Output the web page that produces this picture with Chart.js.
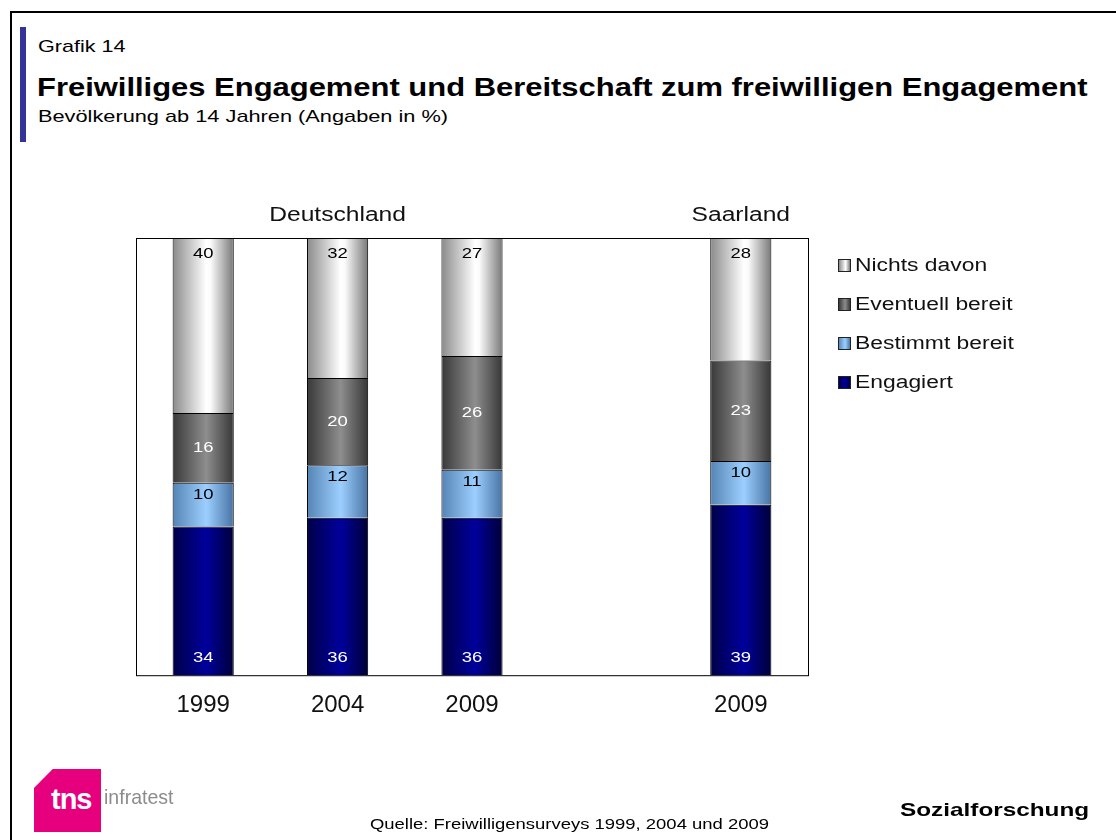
<!DOCTYPE html>
<html lang="de">
  <head>
    <meta charset="UTF-8" />
    <title>Grafik 14</title>
    <script src="https://cdn.jsdelivr.net/npm/chart.js"></script>
    <style>
      * {
        margin: 0;
        padding: 0;
        box-sizing: border-box;
        font-family: Arial, "Liberation Sans", sans-serif;
      }

      body {
        width: 1116px;
        height: 840px;
        background: #fff;
        position: relative;
        overflow: hidden;
        color: #000;
      }

      /* frame (only top + left visible) */
      .frame {
        position: absolute;
        left: 10px;
        top: 11px;
        width: 1200px;
        height: 900px;
        border-left: 2px solid #000;
        border-top: 2px solid #000;
      }

      .accent {
        position: absolute;
        left: 20px;
        top: 27px;
        width: 6px;
        height: 115px;
        background: #333399;
      }

      /* the original lettering is wider than Arial at the same height */
      .wide {
        position: absolute;
        white-space: nowrap;
        transform-origin: left center;
      }

      .kicker {
        left: 38px;
        top: 37px;
        font-size: 17px;
        transform: scaleX(1.27);
      }

      .title {
        left: 37px;
        top: 72px;
        font-size: 26px;
        font-weight: bold;
        transform: scaleX(1.19);
      }

      .subtitle {
        left: 38px;
        top: 107px;
        font-size: 17px;
        transform: scaleX(1.28);
      }

      #chart {
        position: absolute;
        left: 0;
        top: 0;
      }

      /* Legend */
      .legend {
        position: absolute;
        left: 838px;
        top: 255px;
      }

      .legend div {
        height: 39px;
        font-size: 18px;
        color: #111;
        display: flex;
        align-items: flex-start;
      }

      .legend span.box {
        width: 13px;
        height: 13px;
        border: 1px solid #222;
        margin-top: 4px;
        margin-right: 4px;
      }

      .legend span.txt {
        display: inline-block;
        transform: scaleX(1.27);
        transform-origin: left center;
      }

      .logo {
        position: absolute;
        left: 34px;
        top: 769px;
        width: 67px;
        height: 63px;
        background: #e6007e;
        clip-path: polygon(28% 0, 100% 0, 100% 100%, 0 100%, 0 30%);
      }

      .logo span {
        position: absolute;
        left: 17px;
        top: 14px;
        color: #fff;
        font-weight: bold;
        font-size: 29px;
        letter-spacing: -1px;
      }

      .logo-text {
        left: 104px;
        top: 785px;
        color: #8c8c8c;
        font-size: 21px;
        transform: scaleX(0.93);
      }

      .source {
        left: 370px;
        top: 815px;
        font-size: 15px;
        transform: scaleX(1.23);
      }

      .brand {
        left: 900px;
        top: 799px;
        font-size: 19px;
        font-weight: bold;
        transform: scaleX(1.28);
      }
    </style>
  </head>
  <body>
    <div class="frame"></div>
    <div class="accent"></div>
    <div class="wide kicker">Grafik 14</div>
    <div class="wide title">Freiwilliges Engagement und Bereitschaft zum freiwilligen Engagement</div>
    <div class="wide subtitle">Bevölkerung ab 14 Jahren (Angaben in %)</div>

    <canvas id="chart" width="1116" height="840"></canvas>

    <div class="legend">
      <div><span class="box" style="background: linear-gradient(90deg, #8a8a8a, #fff 60%, #7a7a7a)"></span><span class="txt">Nichts davon</span></div>
      <div><span class="box" style="background: linear-gradient(90deg, #3a3a3a, #8c8c8c 55%, #3a3a3a)"></span><span class="txt">Eventuell bereit</span></div>
      <div><span class="box" style="background: linear-gradient(90deg, #5a88b8, #9cd0ff 55%, #4a78a8)"></span><span class="txt">Bestimmt bereit</span></div>
      <div><span class="box" style="background: linear-gradient(90deg, #000050, #00009a 55%, #000040)"></span><span class="txt">Engagiert</span></div>
    </div>

    <div class="logo"><span>tns</span></div>
    <div class="wide logo-text">infratest</div>
    <div class="wide source">Quelle: Freiwilligensurveys 1999, 2004 und 2009</div>
    <div class="wide brand">Sozialforschung</div>

    <script>
      // categories (4th slot is the empty gap between the two groups)
      const years = ["1999", "2004", "2009", "", "2009"];
      const groups = [
        { label: "Deutschland", index: 1 },
        { label: "Saarland", index: 4 },
      ];

      // series values in %
      const engagiert = [34, 36, 36, null, 39];
      const bestimmt = [10, 12, 11, null, 10];
      const eventuell = [16, 20, 26, null, 23];
      const nichts = [40, 32, 27, null, 28];

      const BAR_PCT = 0.455;
      const STRETCH = 1.23; // horizontal widening of canvas text

      // horizontal "cylinder" gradient for each bar
      function cylinder(stops) {
        return (c) => {
          const chart = c.chart;
          const xs = chart.scales && chart.scales.x;
          if (!xs || !chart.chartArea) return stops[1][1];
          const cx = xs.getPixelForValue(c.dataIndex);
          const w = (xs.width / years.length) * BAR_PCT;
          const g = chart.ctx.createLinearGradient(cx - w / 2, 0, cx + w / 2, 0);
          stops.forEach((s) => g.addColorStop(s[0], s[1]));
          return g;
        };
      }

      const datasets = [
        {
          label: "Engagiert",
          data: engagiert,
          backgroundColor: cylinder([[0, "#000048"], [0.55, "#00009c"], [1, "#000038"]]),
          labelColor: "#fff",
          labelPos: "bottom",
        },
        {
          label: "Bestimmt bereit",
          data: bestimmt,
          backgroundColor: cylinder([[0, "#5584b4"], [0.55, "#9ccfff"], [1, "#4773a3"]]),
          labelColor: "#000",
          labelPos: "top",
        },
        {
          label: "Eventuell bereit",
          data: eventuell,
          backgroundColor: cylinder([[0, "#383838"], [0.55, "#8e8e8e"], [1, "#363636"]]),
          labelColor: "#fff",
          labelPos: "center",
        },
        {
          label: "Nichts davon",
          data: nichts,
          backgroundColor: cylinder([[0, "#8a8a8a"], [0.55, "#ffffff"], [0.62, "#fbfbfb"], [1, "#777777"]]),
          labelColor: "#000",
          labelPos: "top",
        },
      ];

      function wideText(ctx, text, x, y) {
        ctx.save();
        ctx.translate(x, y);
        ctx.scale(STRETCH, 1);
        ctx.fillText(text, 0, 0);
        ctx.restore();
      }

      // value labels inside the segments
      const valueLabels = {
        id: "valueLabels",
        afterDatasetsDraw(chart) {
          const ctx = chart.ctx;
          ctx.save();
          ctx.font = "15px Arial, 'Liberation Sans'";
          ctx.textAlign = "center";
          ctx.textBaseline = "middle";
          chart.data.datasets.forEach((ds, di) => {
            chart.getDatasetMeta(di).data.forEach((bar, i) => {
              const v = ds.data[i];
              if (v == null) return;
              const top = Math.min(bar.y, bar.base);
              const bottom = Math.max(bar.y, bar.base);
              let y = (top + bottom) / 2;
              if (ds.labelPos === "top") y = top + (di === 3 ? 16 : 12);
              if (ds.labelPos === "bottom") y = bottom - 17;
              ctx.fillStyle = ds.labelColor;
              wideText(ctx, String(v), bar.x, y);
            });
          });
          ctx.restore();
        },
      };

      // plot frame + group headings
      const frameAndGroups = {
        id: "frameAndGroups",
        afterDraw(chart) {
          const { ctx, chartArea: a } = chart;
          ctx.save();
          ctx.strokeStyle = "#000";
          ctx.lineWidth = 1;
          ctx.strokeRect(a.left + 0.5, a.top + 0.5, a.right - a.left, a.bottom - a.top);
          ctx.font = "20px Arial, 'Liberation Sans'";
          ctx.fillStyle = "#111";
          ctx.textAlign = "center";
          ctx.textBaseline = "middle";
          groups.forEach((g) => {
            wideText(ctx, g.label, chart.scales.x.getPixelForValue(g.index), a.top - 23);
          });
          ctx.restore();
        },
      };

      new Chart(document.getElementById("chart"), {
        type: "bar",
        data: { labels: years, datasets: datasets },
        options: {
          responsive: false,
          animation: false,
          layout: { padding: { left: 136, right: 308, top: 238, bottom: 104 } },
          datasets: {
            bar: {
              barPercentage: BAR_PCT,
              categoryPercentage: 1,
              borderColor: "#000",
              borderWidth: 1,
            },
          },
          plugins: {
            legend: { display: false },
            tooltip: { enabled: false },
          },
          scales: {
            x: {
              stacked: true,
              grid: { display: false, drawTicks: false },
              border: { display: false },
              ticks: {
                color: "#111",
                font: { size: 24, family: "Arial, 'Liberation Sans'" },
                padding: 16,
              },
            },
            y: {
              stacked: true,
              display: false,
              min: 0,
              max: 100,
            },
          },
        },
        plugins: [valueLabels, frameAndGroups],
      });
    </script>
  </body>
</html>
